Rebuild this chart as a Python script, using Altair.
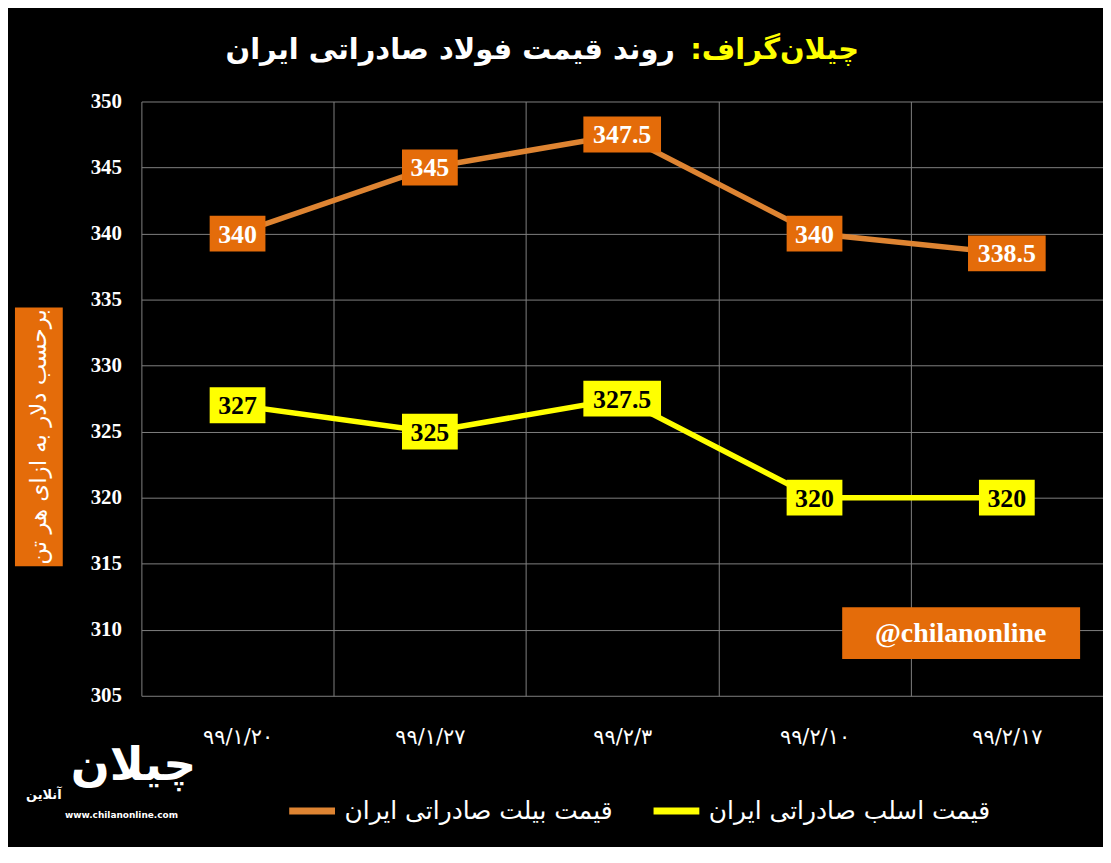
import altair as alt
import pandas as pd

# ---- data ----
dates = ["۹۹/۱/۲۰", "۹۹/۱/۲۷", "۹۹/۲/۳", "۹۹/۲/۱۰", "۹۹/۲/۱۷"]
billet = [340, 345, 347.5, 340, 338.5]
slab = [327, 325, 327.5, 320, 320]
billet_name = "قیمت بیلت صادراتی ایران"
slab_name = "قیمت اسلب صادراتی ایران"
y_ticks = [305, 310, 315, 320, 325, 330, 335, 340, 345, 350]
title_brand = "چیلان\u200cگراف:\u200f"
title_main = "روند قیمت فولاد صادراتی ایران"
y_title = "برحسب دلار به ازای هر تن"
handle = "@chilanonline"

rows = []
for d, b, s in zip(dates, billet, slab):
    rows.append({"date": d, "series": billet_name, "value": b})
    rows.append({"date": d, "series": slab_name, "value": s})
df = pd.DataFrame(rows)
df["label"] = df["value"].map(lambda v: f"{v:g}")
df["len"] = df["label"].map(lambda t: "long" if len(t) > 3 else "short")

ORANGE_BOX = "#E46C0A"
ORANGE_LINE = "#DE8432"
YELLOW = "#FFFF00"
GRID = "#808080"

x_enc = alt.X(
    "date:N", sort=dates, bandPosition=0.5,
    scale=alt.Scale(type="band", paddingInner=0, paddingOuter=0),
    axis=alt.Axis(title=None, tickBand="extent", grid=True, gridColor=GRID,
                  gridWidth=1, domain=False, ticks=False, tickSize=0,
                  labelAngle=0, labelFont="DejaVu Sans", labelFontSize=21,
                  labelColor="white", labelPadding=31),
)
y_enc = alt.Y(
    "value:Q",
    scale=alt.Scale(domain=[305, 350], nice=False, zero=False),
    axis=alt.Axis(title=None, values=y_ticks, grid=True, gridColor=GRID,
                  gridWidth=1, domain=False, ticks=False, tickSize=0,
                  labelFont="Liberation Serif", labelFontWeight="bold",
                  labelFontSize=21, labelColor="white", labelPadding=20),
)

base = alt.Chart(df)

lines = base.mark_line(strokeWidth=5.5).encode(
    x=x_enc, y=y_enc,
    color=alt.Color("series:N",
                    scale=alt.Scale(domain=[billet_name, slab_name],
                                    range=[ORANGE_LINE, YELLOW]),
                    legend=alt.Legend(title=None)),
)

p_short = "M-1.556,-1L1.556,-1L1.556,1L-1.556,1Z"
p_long = "M-2.167,-1L2.167,-1L2.167,1L-2.167,1Z"
shape_enc = alt.Shape("len:N", scale=alt.Scale(domain=["short", "long"],
                                               range=[p_short, p_long]),
                      legend=None)


def boxes(name, fill, txt_color):
    sub = base.transform_filter(alt.datum.series == name)
    b = sub.mark_point(filled=True, opacity=1, size=1296, strokeWidth=0).encode(
        x=x_enc, y=y_enc, shape=shape_enc, color=alt.value(fill))
    t = sub.mark_text(font="Liberation Serif", fontWeight="bold", fontSize=26,
                      baseline="middle", align="center", dy=1).encode(
        x=x_enc, y=y_enc, text="label:N", color=alt.value(txt_color))
    return [b, t]


one = alt.Data(values=[{"k": 1}])


def note(text, x, y, **kw):
    return alt.Chart(one).mark_text(text=text, **kw).encode(
        x=alt.value(x), y=alt.value(y))


def box(x1, y1, x2, y2, color):
    return alt.Chart(one).mark_rect(color=color).encode(
        x=alt.value(x1), x2=alt.value(x2), y=alt.value(y1), y2=alt.value(y2))


layers = [lines]
layers += boxes(billet_name, ORANGE_BOX, "white")
layers += boxes(slab_name, YELLOW, "black")
layers += [
    note(title_brand, 721, -52, font="DejaVu Sans", fontWeight="bold",
         fontSize=29, color=YELLOW, align="right", baseline="middle"),
    note(title_main, 536, -52, font="DejaVu Sans", fontWeight="bold",
         fontSize=29, color="white", align="right", baseline="middle"),
    box(-127, 207, -79, 467, ORANGE_BOX),
    note(y_title, -103, 337, font="DejaVu Sans", fontSize=23, color="white",
         angle=270, align="center", baseline="middle"),
    box(704, 508, 943, 560, ORANGE_BOX),
    note(handle, 823, 535, font="Liberation Serif", fontWeight="bold",
         fontSize=28, color="white", align="center", baseline="middle"),
    note("چیلان", -8, 668, font="DejaVu Sans", fontWeight="bold",
         fontSize=46, color="white", align="center", baseline="middle"),
    note("آنلاین", -98, 697, font="DejaVu Sans", fontWeight="bold",
         fontSize=13, color="white", align="center", baseline="middle"),
    note("www.chilanonline.com", -20, 717, font="DejaVu Sans",
         fontWeight="bold", fontSize=9, color="white", align="center",
         baseline="middle"),
]

chart = alt.layer(*layers).properties(
    width=966, height=597,
    padding={"left": 134, "top": 92, "right": 0, "bottom": 150},
    autosize=alt.AutoSizeParams(type="none"),
    background="black",
).configure_view(stroke=None).configure_legend(
    orient="none", legendX=145, legendY=686, direction="horizontal",
    symbolType="stroke", symbolStrokeWidth=7, symbolSize=2116,
    labelFont="DejaVu Sans", labelFontSize=25, labelColor="white",
    labelLimit=400, columnPadding=26, labelOffset=6,
)

chart.save("out.html", embed_options={"renderer": "svg", "actions": False})
